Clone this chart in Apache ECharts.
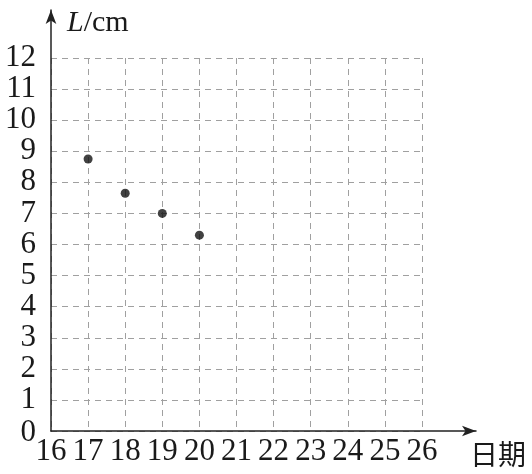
<!DOCTYPE html>
<html><head><meta charset="utf-8">
<script src="https://cdn.jsdelivr.net/npm/echarts@6/dist/echarts.min.js"></script>
<style>html,body{margin:0;padding:0;background:#fff}#c{width:532px;height:474px}</style>
</head><body><div id="c"></div>
<script>
const days = [17, 18, 19, 20];
const lengths = [8.75, 7.65, 7.0, 6.3];
const xMin = 16, xMax = 26, yMin = 0, yMax = 12;

const serif = 'Liberation Serif, DejaVu Serif, serif';
const chart = echarts.init(document.getElementById('c'));
const dash = {show: true, lineStyle: {color: '#a0a0a0', width: 1, type: [6, 5]}};
chart.setOption({
  animation: false,
  backgroundColor: '#fff',
  grid: [
    {left: 51, right: 110, top: 58, bottom: 43},
    {left: 51, right: 56, top: 10, bottom: 43}
  ],
  xAxis: [
    {gridIndex: 0, type: 'value', min: xMin, max: xMax, interval: 1,
     axisLine: {show: false}, axisTick: {show: false}, splitLine: dash,
     axisLabel: {fontSize: 31, fontFamily: serif, color: '#1a1a1a', margin: 5}},
    {gridIndex: 1, type: 'value', min: 0, max: 1,
     axisLine: {show: true, symbol: ['none', 'arrow'], symbolSize: [8, 14], lineStyle: {color: '#222', width: 1.5}},
     axisTick: {show: false}, axisLabel: {show: false}, splitLine: {show: false},
     name: '日期', nameLocation: 'end', nameGap: -6,
     nameTextStyle: {fontSize: 28, fontFamily: 'Noto Sans CJK SC', color: '#1a1a1a', verticalAlign: 'top', padding: [9, 0, 0, 0]}}
  ],
  yAxis: [
    {gridIndex: 0, type: 'value', min: yMin, max: yMax, interval: 1,
     axisLine: {show: false}, axisTick: {show: false}, splitLine: dash,
     axisLabel: {fontSize: 31, fontFamily: serif, color: '#1a1a1a', margin: 15,
       formatter: v => v === 0 ? '{z|0}' : String(v),
       rich: {z: {fontSize: 31, fontFamily: serif, color: '#1a1a1a', padding: [4, 0, 0, 0]}}}},
    {gridIndex: 1, type: 'value', min: 0, max: 1,
     axisLine: {show: true, symbol: ['none', 'arrow'], symbolSize: [8, 14], lineStyle: {color: '#222', width: 1.5}},
     axisTick: {show: false}, axisLabel: {show: false}, splitLine: {show: false},
     name: '{i|L}{n|/cm}', nameLocation: 'end', nameGap: -28,
     nameTextStyle: {align: 'left', padding: [0, 0, 0, 16],
       rich: {i: {fontSize: 30, fontStyle: 'italic', fontFamily: serif, color: '#1a1a1a'},
              n: {fontSize: 30, fontFamily: serif, color: '#1a1a1a'}}}}
  ],
  series: [{
    type: 'scatter', xAxisIndex: 0, yAxisIndex: 0,
    data: days.map((d, i) => [d, lengths[i]]),
    symbolSize: 9, itemStyle: {color: '#111'}
  }]
});
</script></body></html>
